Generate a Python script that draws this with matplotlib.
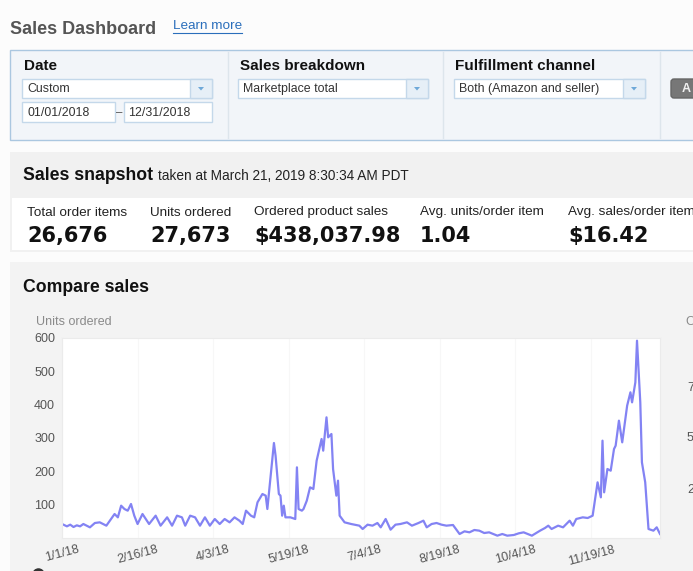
import matplotlib
matplotlib.use("Agg")
import matplotlib.pyplot as plt
from matplotlib.patches import Rectangle, FancyBboxPatch, Polygon

W, H = 693, 571

# units ordered (day of year, value)
days = [0, 3, 5, 7, 9, 11, 13, 15, 17, 20, 23, 27, 32, 34, 36, 38, 40, 42, 44, 46,
        49, 53, 57, 60, 64, 67, 70, 73, 75, 78, 81, 84, 87, 90, 93, 96, 99, 102, 105,
        108, 110, 112, 115, 117, 119, 122, 124, 125, 127, 129, 130, 132, 133, 134,
        135, 136, 139, 142, 143, 144, 146, 147, 149, 151, 153, 155, 158, 159, 161,
        162, 164, 165, 167, 168, 169, 172, 176, 181, 183, 186, 189, 192, 194, 197, 200,
        203, 206, 210, 213, 217, 220, 222, 225, 228, 231, 234, 238, 242, 245, 248, 251,
        254, 257, 260, 265, 268, 271, 275, 278, 281, 286, 291, 294, 296, 298, 302, 305,
        309, 311, 313, 317, 320, 323, 326, 328, 329, 330,
        332, 334, 336, 337, 339, 341, 344, 346, 347, 349, 350, 352, 353, 355, 357,
        360, 362, 364]
units = [42, 35, 40, 33, 38, 35, 42, 37, 32, 45, 47, 37, 72, 62, 97, 87, 82, 102, 67, 42,
         72, 42, 67, 37, 62, 37, 67, 62, 37, 67, 62, 37, 62, 37, 57, 42, 57, 47, 62,
         52, 42, 82, 67, 62, 107, 132, 127, 87, 187, 285, 247, 132, 127, 67,
         97, 62, 62, 57, 212, 87, 82, 87, 112, 152, 147, 232, 297, 262, 362,
         302, 312, 207, 127, 172, 67, 47, 42, 37, 27, 40, 37, 45, 32, 57, 25,
         40, 42, 47, 37, 45, 52, 32, 42, 45, 40, 37, 39, 12, 20, 17, 24,
         22, 15, 17, 7, 12, 7, 9, 14, 17, 7, 22, 30, 37, 27, 37, 32,
         52, 37, 57, 62, 60, 67, 167, 122, 292, 137,
         207, 202, 267, 277, 352, 287, 397, 437, 407, 467, 592, 407, 227, 167, 27,
         22, 32, 12]

tick_days = [0, 46, 92, 138, 184, 230, 276, 322]
tick_labels = ["1/1/18", "2/16/18", "4/3/18", "5/19/18", "7/4/18", "8/19/18", "10/4/18", "11/19/18"]

metric_names = ["Total order items", "Units ordered", "Ordered product sales",
                "Avg. units/order item", "Avg. sales/order item"]
metric_values = ["26,676", "27,673", "$438,037.98", "1.04", "$16.42"]
metric_x = [27, 150, 254, 420, 568]

right_ticks = ["7,500", "5,000", "2,500"]

plt.rcParams["font.family"] = ["Liberation Sans", "DejaVu Sans"]

fig = plt.figure(figsize=(W / 100, H / 100), dpi=100)
fig.patch.set_facecolor("#fcfcfc")

# background axes in pixel coordinates
bg = fig.add_axes([0, 0, 1, 1])
bg.set_xlim(0, W)
bg.set_ylim(H, 0)
bg.axis("off")


def box(x0, y0, x1, y1, fc, ec="none", lw=1.0):
    bg.add_patch(Rectangle((x0, y0), x1 - x0, y1 - y0, fc=fc, ec=ec, lw=lw))


def txt(x, y, s, size=8.5, color="#333333", weight="normal", **kw):
    bg.text(x, y, s, fontsize=size, color=color, weight=weight, va="center", ha="left", **kw)


def dropdown(x0, y0, x1, y1, label):
    box(x0, y0, x1, y1, "white", "#c4d8ea")
    box(x1 - 22, y0, x1, y1, "#e6eff7", "#c4d8ea")
    cx, cy = x1 - 11, (y0 + y1) / 2
    bg.add_patch(Polygon([[cx - 3, cy - 1.5], [cx + 3, cy - 1.5], [cx, cy + 2]],
                         closed=True, fc="#6ea8d8", ec="none"))
    txt(x0 + 5, cy + 0.5, label, size=8.9)


# header
txt(10, 30, "Sales Dashboard", size=13, color="#555555", weight="bold")
txt(173, 26, "Learn more", size=9.7, color="#2a6ebb")
bg.plot([173, 242], [32.5, 32.5], color="#2a6ebb", lw=0.8)

# filter panel
box(10, 50, 700, 140, "#f2f5f9", "#abc7e0")
for sx in [228, 443, 660]:
    bg.plot([sx, sx], [52, 138], color="#dde5ec", lw=1)
txt(24, 66, "Date", size=11, color="#111111", weight="bold")
txt(240, 66, "Sales breakdown", size=11, color="#111111", weight="bold")
txt(455, 66, "Fulfillment channel", size=11, color="#111111", weight="bold")
dropdown(22, 79, 212, 98, "Custom")
box(22, 102, 115, 122, "white", "#c4d8ea")
box(124, 102, 212, 122, "white", "#c4d8ea")
txt(27, 112.5, "01/01/2018", size=8.9)
txt(116.5, 113, "–", size=8.3, color="#555555")
txt(128, 112.5, "12/31/2018", size=8.9)
dropdown(238, 79, 428, 98, "Marketplace total")
dropdown(454, 79, 645, 98, "Both (Amazon and seller)")
bg.add_patch(FancyBboxPatch((671, 79), 40, 19, boxstyle="round,pad=0,rounding_size=3",
                            fc="#777777", ec="#666666"))
txt(682, 88.5, "A", size=9, color="#f0f0f0", weight="bold")

# snapshot panel
box(10, 152, 700, 252, "#f1f1f1")
box(12, 198, 700, 250, "white")
txt(23, 175, "Sales snapshot", size=12.7, color="#111111", weight="bold")
txt(158, 176.5, "taken at March 21, 2019 8:30:34 AM PDT", size=9.8, color="#222222")
for mx, name, val in zip(metric_x, metric_names, metric_values):
    txt(mx, 212.5, name, size=9.7, color="#222222")
    bg.text(mx, 236, val, fontsize=15, color="#111111", weight="bold",
            va="center", ha="left", family="DejaVu Sans")

# compare sales panel
box(10, 262, 700, 575, "#f3f3f3")
txt(23, 287, "Compare sales", size=12.7, color="#111111", weight="bold")
txt(36, 322, "Units ordered", size=9, color="#8a8a8a")
txt(686, 322, "Ordered product sales", size=9, color="#8a8a8a")
for ty, lab in zip([388, 438, 489], right_ticks):
    txt(687, ty, lab, size=9, color="#555555")
bg.plot([38], [574], "o", color="#333333", ms=8)

# the line chart
ax = fig.add_axes([62 / W, 1 - 538 / H, 598 / W, 200 / H])
ax.set_facecolor("white")
ax.plot(days, units, color="#6d6df2", lw=1.6, alpha=0.85, solid_joinstyle="round")
ax.set_xlim(0, 364)
ax.set_ylim(0, 600)
ax.set_yticks([100, 200, 300, 400, 500, 600])
ax.set_xticks(tick_days)
ax.set_xticklabels(tick_labels, rotation=15, ha="center")
ax.tick_params(length=0, labelsize=9, labelcolor="#555555", pad=4)
ax.tick_params(axis="y", pad=5)
ax.grid(axis="x", color="#f7f7f7", lw=0.8)
for s in ax.spines.values():
    s.set_color("#ebebeb")
    s.set_linewidth(0.8)

fig.savefig("out.png", dpi=100, facecolor=fig.get_facecolor())
